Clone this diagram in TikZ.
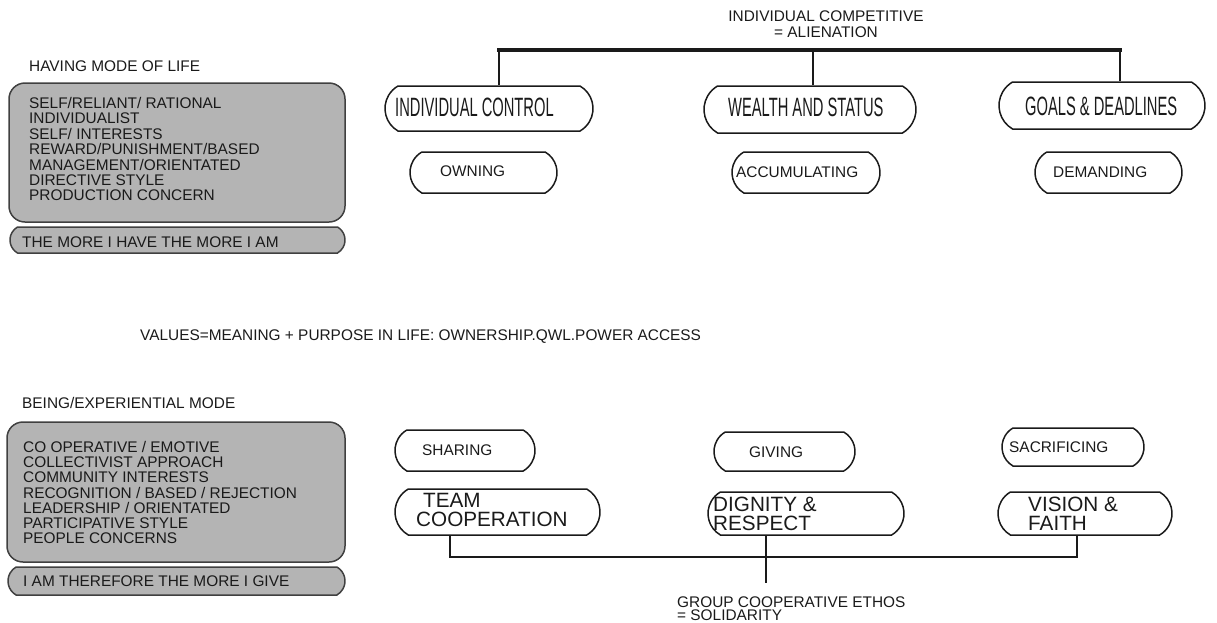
\documentclass[tikz,border=0pt]{standalone}
\usepackage{fontspec}
\setmainfont{Liberation Sans}
\newfontfamily\narrowfont[FakeStretch=0.555]{Liberation Sans}
\usetikzlibrary{shapes.misc}
\definecolor{boxgrey}{HTML}{B4B4B4}
\definecolor{ink}{HTML}{1A1A1A}
\tikzset{
  outline/.style={draw=ink, line width=1.5pt},
  pill/.style={outline, rounded rectangle, rounded rectangle arc length=120, inner sep=0pt},
  greybox/.style={draw=black!75, line width=1.5pt, fill=boxgrey, rounded corners=16pt, inner sep=0pt},
  greypill/.style={draw=black!75, line width=1.5pt, fill=boxgrey, rounded rectangle, rounded rectangle arc length=120, inner sep=0pt},
  txt/.style={inner sep=0pt, text=ink, font=\fontsize{15.4}{15.4}\selectfont},
  bigtxt/.style={inner sep=0pt, text=ink, font=\narrowfont\fontsize{26.5}{26.5}\selectfont},
  midtxt/.style={inner sep=0pt, text=ink, align=left, font=\fontsize{20.7}{19}\selectfont},
  bar/.style={draw=ink, line width=3.4pt, line cap=rect},
  stem/.style={draw=ink, line width=1.9pt},
  lowbar/.style={draw=ink, line width=2.5pt, line cap=rect},
}
\begin{document}
\begin{tikzpicture}[x=1pt,y=-1pt]
\useasboundingbox (0,0) rectangle (1217,622);

% ---------- having mode ----------
\node[txt, anchor=base west] (havingtitle) at (29,71.5) {HAVING MODE OF LIFE};
\node[greybox, minimum width=336pt, minimum height=139pt] (havingbox) at (177,152.5) {};
\foreach \t [count=\i] in {SELF/RELIANT/ RATIONAL, INDIVIDUALIST, SELF/ INTERESTS,
  REWARD/PUNISHMENT/BASED, MANAGEMENT/ORIENTATED, DIRECTIVE STYLE, PRODUCTION CONCERN}
  \node[txt, anchor=base west] (h\i) at (29,{108.5+15.4*(\i-1)}) {\t};
\node[greypill, minimum width=335pt, minimum height=26pt] (havingpill) at (177.5,240) {};
\node[txt, anchor=west] (havingmotto) at (22,242.5) {THE MORE I HAVE THE MORE I AM};

% ---------- values line ----------
\node[txt, anchor=base west] (values) at (140,340.5)
  {VALUES=MEANING + PURPOSE IN LIFE: OWNERSHIP.QWL.POWER ACCESS};

% ---------- being mode ----------
\node[txt, anchor=base west] (beingtitle) at (22,408.5) {BEING/EXPERIENTIAL MODE};
\node[greybox, minimum width=338pt, minimum height=140pt] (beingbox) at (176,492) {};
\foreach \t [count=\i] in {CO OPERATIVE / EMOTIVE, COLLECTIVIST APPROACH, COMMUNITY INTERESTS,
  RECOGNITION / BASED / REJECTION, LEADERSHIP / ORIENTATED, PARTICIPATIVE STYLE, PEOPLE CONCERNS}
  \node[txt, anchor=base west] (b\i) at (23,{452.5+15.17*(\i-1)}) {\t};
\node[greypill, minimum width=337pt, minimum height=28pt] (beingpill) at (176.5,581) {};
\node[txt, anchor=west] (beingmotto) at (23,581) {I AM THEREFORE THE MORE I GIVE};

% ---------- competitive tree ----------
\node[txt, align=center, font=\fontsize{15.4}{16.5}\selectfont] (comp) at (826,24)
  {INDIVIDUAL COMPETITIVE\\ = ALIENATION};

\node[pill, minimum width=208pt, minimum height=45pt] (ic) at (489,108.5) {};
\node[bigtxt, anchor=west] (ict) at (395,107.5) {INDIVIDUAL CONTROL};
\node[pill, minimum width=212pt, minimum height=47pt] (ws) at (810,109.5) {};
\node[bigtxt, anchor=west] (wst) at (728,107.5) {WEALTH AND STATUS};
\node[pill, minimum width=206pt, minimum height=47pt] (gd) at (1102,105.5) {};
\node[bigtxt, anchor=west] (gdt) at (1025,106) {GOALS \& DEADLINES};

\node[pill, minimum width=147pt, minimum height=41pt] (ow) at (483.5,172.5) {};
\node[txt, anchor=west] (owt) at (440,171.5) {OWNING};
\node[pill, minimum width=148pt, minimum height=41pt] (ac) at (806,172.5) {};
\node[txt, anchor=west] (act) at (736,172) {ACCUMULATING};
\node[pill, minimum width=147pt, minimum height=41pt] (de) at (1108.5,172.5) {};
\node[txt, anchor=west] (det) at (1053,172) {DEMANDING};

\coordinate (tl) at (499,50);
\coordinate (tm) at (813,50);
\coordinate (tr) at (1120,50);
\draw[bar] (tl) -- (tr);
\draw[stem] (tl) -- (tl |- ic.north);
\draw[stem] (tm) -- (tm |- ws.north);
\draw[stem] (tr) -- (tr |- gd.north);

% ---------- cooperative tree ----------
\node[pill, minimum width=140pt, minimum height=41pt] (sh) at (465,450.5) {};
\node[txt, anchor=west] (sht) at (422,450) {SHARING};
\node[pill, minimum width=141pt, minimum height=39pt] (gv) at (784.5,451.5) {};
\node[txt, anchor=west] (gvt) at (749,452) {GIVING};
\node[pill, minimum width=142pt, minimum height=38pt] (sc) at (1073,447) {};
\node[txt, anchor=west] (sct) at (1009,447) {SACRIFICING};

\node[pill, minimum width=205pt, minimum height=46pt] (tc) at (497.5,512) {};
\node[midtxt, anchor=west] (tct) at (416,509.5) {\hspace*{7pt}TEAM\\COOPERATION};
\node[pill, minimum width=196pt, minimum height=43pt] (dr) at (806,513.5) {};
\node[midtxt, anchor=west] (drt) at (713,514) {DIGNITY \&\\RESPECT};
\node[pill, minimum width=174pt, minimum height=43pt] (vf) at (1085,513.5) {};
\node[midtxt, anchor=west] (vft) at (1028,514) {VISION \&\\FAITH};

\coordinate (bl) at (450,557);
\coordinate (bm) at (766,557);
\coordinate (br) at (1077,557);
\coordinate (btail) at (766,583);
\draw[stem] (tc.south -| bl) -- (bl);
\draw[stem] (vf.south -| br) -- (br);
\draw[lowbar] (bl) -- (br);
\draw[stem] (dr.south -| bm) -- (btail);

\node[txt, align=left, anchor=west, font=\fontsize{15.4}{13}\selectfont] (coop) at (677,608.5)
  {GROUP COOPERATIVE ETHOS\\= SOLIDARITY};
\end{tikzpicture}
\end{document}
